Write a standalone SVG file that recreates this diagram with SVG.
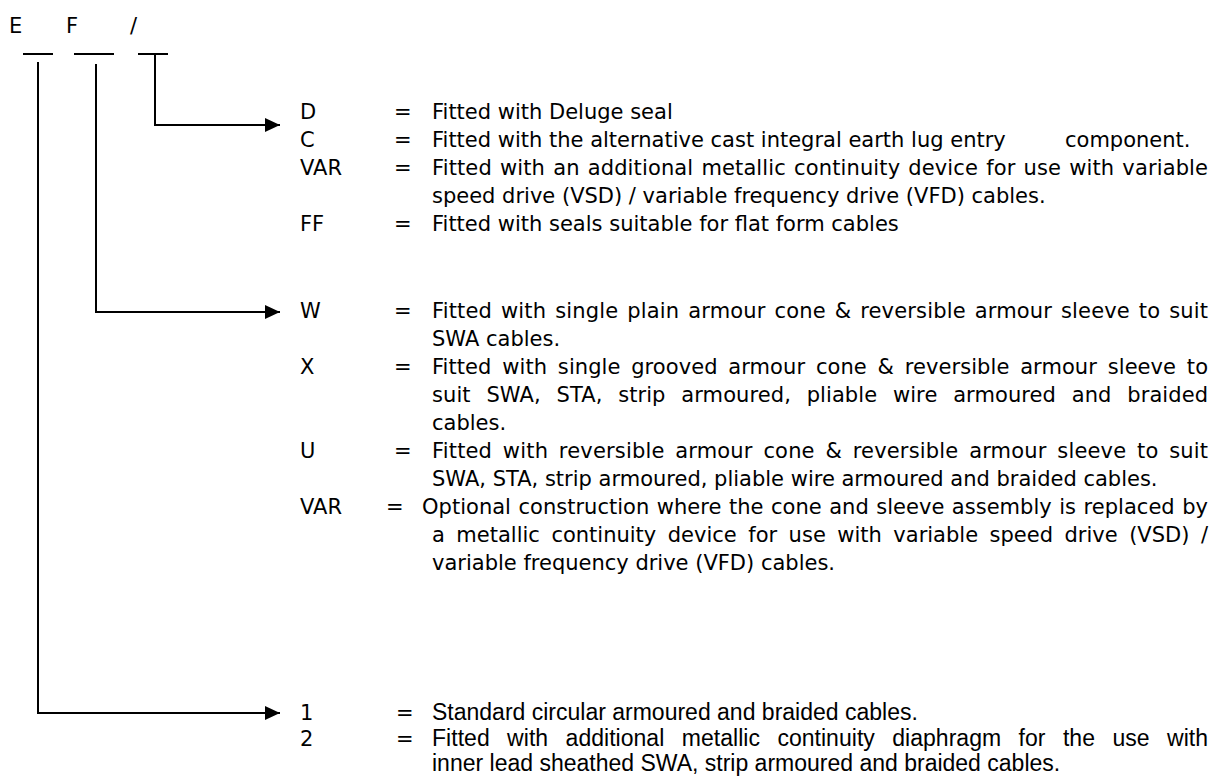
<svg xmlns="http://www.w3.org/2000/svg" width="1215" height="780" viewBox="0 0 1215 780">
<defs>
<marker id="ah" markerWidth="15" markerHeight="14" refX="15" refY="7" orient="auto" markerUnits="userSpaceOnUse"><path d="M0,0 L15,7 L0,14 Z" fill="#000"/></marker>
<style>
text { font-family: "DejaVu Sans", Verdana, sans-serif; font-size: 21px; fill: #000; }
.n { font-family: "Liberation Sans", Arial, sans-serif; font-size: 23px; }
.ln { stroke: #000; stroke-width: 2; fill: none; }
</style>
</defs>
<rect width="1215" height="780" fill="#fff"/>
<g id="code">
<text x="9" y="33">E</text>
<text x="66" y="33">F</text>
<text x="130" y="33">/</text>
<path class="ln" d="M23,54 H53 M74,54 H114 M138,54 H168"/>
</g>
<g id="connectors">
<path class="ln" d="M155,55 V125 H280" marker-end="url(#ah)"/>
<path class="ln" d="M96,64 V312 H280" marker-end="url(#ah)"/>
<path class="ln" d="M38,62 V713 H280" marker-end="url(#ah)"/>
</g>
<g id="group-seal">
<text x="300" y="119">D</text><text x="394" y="119">=</text><text x="432" y="119">Fitted with Deluge seal</text>
<text x="300" y="147">C</text><text x="394" y="147">=</text><text x="432" y="147">Fitted with the alternative cast integral earth lug entry</text><text x="1065" y="147">component.</text>
<text x="300" y="175">VAR</text><text x="394" y="175">=</text><text x="432" y="175" word-spacing="1.3" textLength="776" lengthAdjust="spacing">Fitted with an additional metallic continuity device for use with variable</text>
<text x="432" y="203">speed drive (VSD) / variable frequency drive (VFD) cables.</text>
<text x="300" y="231">FF</text><text x="394" y="231">=</text><text x="432" y="231">Fitted with seals suitable for flat form cables</text>
</g>
<g id="group-armour">
<text x="300" y="318">W</text><text x="394" y="318">=</text><text x="432" y="318" word-spacing="2.1" textLength="776" lengthAdjust="spacing">Fitted with single plain armour cone &amp; reversible armour sleeve to suit</text>
<text x="432" y="346">SWA cables.</text>
<text x="300" y="374">X</text><text x="394" y="374">=</text><text x="432" y="374" word-spacing="4.1" textLength="776" lengthAdjust="spacing">Fitted with single grooved armour cone &amp; reversible armour sleeve to</text>
<text x="432" y="402" word-spacing="9" textLength="776" lengthAdjust="spacing">suit SWA, STA, strip armoured, pliable wire armoured and braided</text>
<text x="432" y="430">cables.</text>
<text x="300" y="458">U</text><text x="394" y="458">=</text><text x="432" y="458" word-spacing="3.9" textLength="776" lengthAdjust="spacing">Fitted with reversible armour cone &amp; reversible armour sleeve to suit</text>
<text x="432" y="486">SWA, STA, strip armoured, pliable wire armoured and braided cables.</text>
<text x="300" y="514">VAR</text><text x="386" y="514">=</text><text x="422" y="514" word-spacing="0.8" textLength="786" lengthAdjust="spacing">Optional construction where the cone and sleeve assembly is replaced by</text>
<text x="432" y="542" word-spacing="4.8" textLength="776" lengthAdjust="spacing">a metallic continuity device for use with variable speed drive (VSD) /</text>
<text x="432" y="570">variable frequency drive (VFD) cables.</text>
</g>
<g id="group-cable">
<text x="300" y="720">1</text><text x="396" y="720">=</text><text class="n" x="432" y="720">Standard circular armoured and braided cables.</text>
<text x="300" y="746">2</text><text x="396" y="746">=</text><text class="n" x="432" y="746" word-spacing="11" textLength="776" lengthAdjust="spacing">Fitted with additional metallic continuity diaphragm for the use with</text>
<text class="n" x="432" y="771">inner lead sheathed SWA, strip armoured and braided cables.</text>
</g>
</svg>
